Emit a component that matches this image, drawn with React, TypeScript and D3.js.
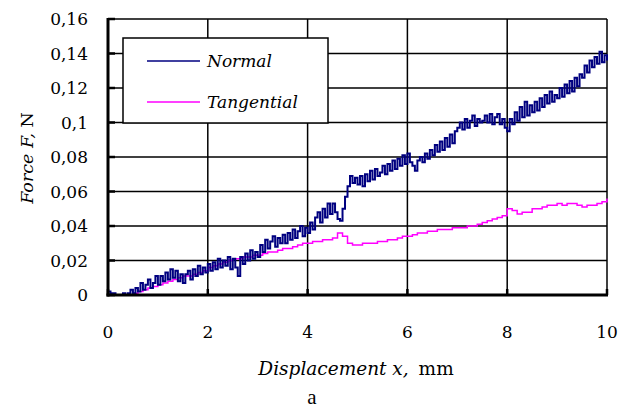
import React from 'react';
import * as d3 from 'd3';

// Normal force, sampled every 0.05 mm from 0 to 10 mm
const normalForce = [
  0.002, 0.001, 0.001, 0.0, 0.0, 0.0, 0.001, 0.0, 0.001, 0.003,
  0.001, 0.004, 0.002, 0.007, 0.003, 0.006, 0.009, 0.004, 0.007, 0.011,
  0.006, 0.011, 0.008, 0.013, 0.009, 0.015, 0.01, 0.014, 0.008, 0.012,
  0.007, 0.012, 0.014, 0.009, 0.015, 0.011, 0.017, 0.012, 0.016, 0.013,
  0.018, 0.014, 0.019, 0.015, 0.021, 0.016, 0.02, 0.017, 0.022, 0.015,
  0.021, 0.016, 0.011, 0.022, 0.018, 0.024, 0.02, 0.026, 0.021, 0.025,
  0.022, 0.029, 0.025, 0.032, 0.027, 0.031, 0.034, 0.028, 0.033, 0.03,
  0.035, 0.03, 0.036, 0.032, 0.038, 0.033, 0.037, 0.04, 0.034, 0.039,
  0.036, 0.042, 0.038, 0.045, 0.048, 0.042, 0.05, 0.045, 0.053, 0.047,
  0.053, 0.048, 0.044, 0.043, 0.05, 0.057, 0.063, 0.069, 0.065, 0.068,
  0.064, 0.069, 0.063, 0.07, 0.066, 0.072, 0.067, 0.073, 0.069, 0.071,
  0.075, 0.07, 0.076, 0.072, 0.078, 0.073, 0.079, 0.075, 0.081, 0.076,
  0.082, 0.077, 0.075, 0.072, 0.078, 0.08, 0.077, 0.082, 0.079, 0.084,
  0.081, 0.087, 0.083, 0.089, 0.084, 0.091, 0.086, 0.093, 0.088, 0.095,
  0.097, 0.1, 0.096, 0.102, 0.097, 0.101, 0.104, 0.098, 0.102, 0.1,
  0.101, 0.104, 0.1, 0.105, 0.099, 0.103, 0.105, 0.099, 0.102, 0.097,
  0.095, 0.102, 0.099, 0.106, 0.101, 0.109, 0.103, 0.112, 0.104, 0.11,
  0.106, 0.112, 0.107, 0.114, 0.109, 0.116, 0.111, 0.118, 0.112, 0.116,
  0.114, 0.12, 0.115, 0.122, 0.117, 0.124, 0.118, 0.126, 0.121, 0.128,
  0.126, 0.133, 0.129, 0.136, 0.132, 0.138, 0.134, 0.141, 0.135, 0.139, 0.136,
];
const normalStart = 0;
const normalStep = 0.05;

// Tangential force, sampled every 0.1 mm from 0.4 to 10 mm
const tangentialForce = [
  0.0, 0.001, 0.002, 0.003, 0.004, 0.005,
  0.006, 0.007, 0.008, 0.009, 0.01, 0.011, 0.011, 0.012, 0.013, 0.014,
  0.016, 0.017, 0.018, 0.019, 0.02, 0.021, 0.021, 0.022, 0.022, 0.023,
  0.023, 0.024, 0.025, 0.025, 0.026, 0.027, 0.027, 0.028, 0.029, 0.03,
  0.03, 0.031, 0.031, 0.032, 0.032, 0.033, 0.036, 0.034, 0.03, 0.029,
  0.029, 0.03, 0.03, 0.03, 0.031, 0.031, 0.032, 0.032, 0.033, 0.034,
  0.034, 0.035, 0.036, 0.036, 0.037, 0.037, 0.038, 0.038, 0.038, 0.039,
  0.039, 0.039, 0.04, 0.04, 0.041, 0.042, 0.043, 0.044, 0.045, 0.046,
  0.05, 0.049, 0.047, 0.048, 0.048, 0.05, 0.05, 0.051, 0.052, 0.052,
  0.053, 0.052, 0.053, 0.053, 0.052, 0.051, 0.052, 0.052, 0.053, 0.054, 0.056,
];
const tangentialStart = 0.4;
const tangentialStep = 0.1;

const xTicks = [0, 2, 4, 6, 8, 10];
const yTicks = [0, 0.02, 0.04, 0.06, 0.08, 0.1, 0.12, 0.14, 0.16];
const seriesNames = ['Normal', 'Tangential'];
const seriesColors = ['#000080', '#ff00ff'];

const W = 630;
const H = 416;
const plot = { left: 108, right: 607, top: 19, bottom: 295 };
const serif = '"DejaVu Serif", serif';

const fmt = (v: number) => String(+v.toFixed(2)).replace('.', ',');

export default function App() {
  const x = d3.scaleLinear().domain([0, 10]).range([plot.left, plot.right]);
  const y = d3.scaleLinear().domain([0, 0.16]).range([plot.bottom, plot.top]);

  const line = d3
    .line<[number, number]>()
    .x((d) => x(d[0]))
    .y((d) => y(d[1]))
    .curve(d3.curveStepAfter);

  const normalPts = normalForce.map((v, i) => [normalStart + i * normalStep, v] as [number, number]);
  const tangPts = tangentialForce.map(
    (v, i) => [tangentialStart + i * tangentialStep, v] as [number, number]
  );

  const legend = { x: 123, y: 38, w: 205, h: 85 };

  return (
    <svg
      width={W}
      height={H}
      style={{ position: 'absolute', left: 0, top: 0, background: '#fff' }}
    >
      {/* grid */}
      {yTicks.slice(1).map((t) => (
        <line key={'gy' + t} x1={plot.left} x2={plot.right} y1={y(t)} y2={y(t)} stroke="#000" strokeWidth={1.5} />
      ))}
      {xTicks.slice(1).map((t) => (
        <line key={'gx' + t} x1={x(t)} x2={x(t)} y1={plot.top} y2={plot.bottom} stroke="#000" strokeWidth={1.5} />
      ))}

      {/* series */}
      <path d={line(tangPts) || ''} fill="none" stroke={seriesColors[1]} strokeWidth={1.5} />
      <path d={line(normalPts) || ''} fill="none" stroke={seriesColors[0]} strokeWidth={2} />

      {/* axes */}
      <line x1={plot.left} x2={plot.left} y1={plot.top - 1} y2={plot.bottom + 1.5} stroke="#000" strokeWidth={3} />
      <line x1={plot.left - 1.5} x2={plot.right + 1} y1={plot.bottom} y2={plot.bottom} stroke="#000" strokeWidth={3} />
      {yTicks.map((t) => (
        <line key={'ty' + t} x1={plot.left} x2={plot.left + 7} y1={y(t)} y2={y(t)} stroke="#000" strokeWidth={2.5} />
      ))}
      {xTicks.map((t) => (
        <line key={'tx' + t} x1={x(t)} x2={x(t)} y1={plot.bottom} y2={plot.bottom - 6} stroke="#000" strokeWidth={2.5} />
      ))}

      {/* tick labels */}
      {yTicks.map((t) => (
        <text key={'ly' + t} x={88} y={y(t) + 6} textAnchor="end" fontFamily={serif} fontSize={17}>
          {fmt(t)}
        </text>
      ))}
      {xTicks.map((t) => (
        <text key={'lx' + t} x={x(t)} y={338} textAnchor="middle" fontFamily={serif} fontSize={17}>
          {t}
        </text>
      ))}

      {/* axis titles */}
      <text x={356} y={375} textAnchor="middle" fontFamily={serif} fontSize={18.5}>
        <tspan fontStyle="italic">Displacement x,</tspan>
        <tspan dx={4}> mm</tspan>
      </text>
      <text
        transform="translate(33,158) rotate(-90)"
        textAnchor="middle"
        fontFamily={serif}
        fontSize={17.5}
      >
        <tspan fontStyle="italic">Force F,</tspan>
        <tspan> N</tspan>
      </text>
      <text x={312} y={404} textAnchor="middle" fontFamily='"Liberation Serif", serif' fontSize={21}>
        a
      </text>

      {/* legend */}
      <rect x={legend.x} y={legend.y} width={legend.w} height={legend.h} fill="#fff" stroke="#000" strokeWidth={1.5} />
      {seriesNames.map((n, i) => (
        <g key={n}>
          <line
            x1={147}
            x2={200}
            y1={61 + i * 41}
            y2={61 + i * 41}
            stroke={seriesColors[i]}
            strokeWidth={1.5}
          />
          <text x={207} y={61 + i * 41 + 6} fontFamily={serif} fontStyle="italic" fontSize={17}>
            {n}
          </text>
        </g>
      ))}
    </svg>
  );
}
